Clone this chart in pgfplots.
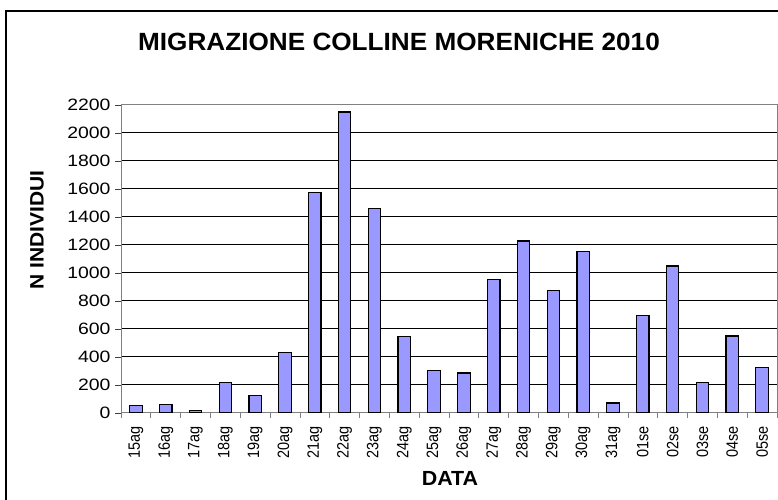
\documentclass[border=0pt]{standalone}
\usepackage{fontspec}
\setmainfont{Liberation Sans}
\newfontfamily\titlefont[FakeStretch=1.05]{Liberation Sans}
\newfontfamily\ytfont[FakeStretch=1.18]{Liberation Sans}
\newfontfamily\xtfont[FakeStretch=0.88]{Liberation Sans}
\newfontfamily\ylfont[FakeStretch=1.08]{Liberation Sans}
\usepackage{pgfplots}
\pgfplotsset{compat=1.18}
\definecolor{barfill}{HTML}{9999FF}
\definecolor{frame}{HTML}{808080}
\begin{document}
\begin{tikzpicture}
\useasboundingbox (0bp,0bp) rectangle (778bp,500bp);
\draw[line width=1.3bp] (6bp,0bp) -- (6bp,489bp) -- (778bp,489bp);
\begin{axis}[
  at={(121bp,87bp)}, anchor=south west,
  width=656bp, height=308bp, scale only axis,
  xmin=-0.5, xmax=21.5, ymin=0, ymax=2200,
  ytick={0,200,...,2200},
  xtick={0,...,21},
  xticklabels={15ag,16ag,17ag,18ag,19ag,20ag,21ag,22ag,23ag,24ag,25ag,26ag,27ag,28ag,29ag,30ag,31ag,01se,02se,03se,04se,05se},
  minor xtick={-0.5,0.5,...,21.5},
  major x tick style={draw=none},
  minor x tick style={draw=frame, line width=0.8bp},
  major y tick style={draw=black!75, line width=0.8bp},
  tick align=outside,
  major tick length=6bp, minor tick length=5bp,
  xtick pos=bottom, ytick pos=left,
  ymajorgrids,
  grid style={black, line width=1bp},
  axis line style={draw=frame, line width=1bp},
  /pgf/number format/assume math mode=true,
  /pgf/number format/1000 sep={},
  yticklabel style={font=\ytfont\fontsize{16.5}{18}\selectfont, xshift=-1bp},
  xticklabel style={font=\xtfont\fontsize{16.5}{18}\selectfont, rotate=90, anchor=east, xshift=-4bp},
]
\addplot[ybar, bar width=12.5bp, fill=barfill, draw=black, line width=1.2bp]
coordinates {
(0,52) (1,62) (2,19) (3,217) (4,126) (5,431) (6,1576) (7,2150) (8,1462) (9,548) (10,305)
(11,286) (12,955) (13,1229) (14,874) (15,1155) (16,71) (17,698) (18,1050) (19,217) (20,550) (21,326)
};
\end{axis}
\node[font=\titlefont\bfseries\fontsize{25}{28}\selectfont] at (399bp,458bp) {MIGRAZIONE COLLINE MORENICHE 2010};
\node[font=\titlefont\bfseries\fontsize{20.5}{23}\selectfont] at (450bp,22bp) {DATA};
\node[font=\ylfont\bfseries\fontsize{19.5}{22}\selectfont, rotate=90] at (37bp,270bp) {N INDIVIDUI};
\end{tikzpicture}
\end{document}
